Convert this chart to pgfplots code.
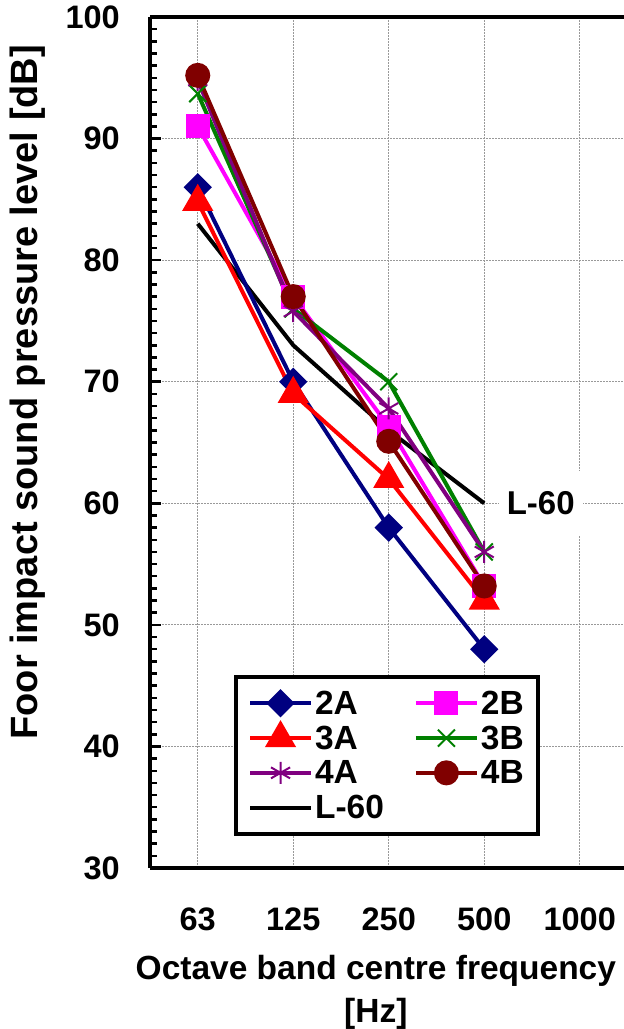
\documentclass[border=0pt]{standalone}
\usepackage{fontspec}
\setmainfont{Liberation Sans}
\usepackage{pgfplots}
\pgfplotsset{compat=1.18}
\definecolor{cA2}{RGB}{0,0,128}
\definecolor{cB2}{RGB}{255,0,255}
\definecolor{cA3}{RGB}{255,0,0}
\definecolor{cB3}{RGB}{0,128,0}
\definecolor{cA4}{RGB}{128,0,128}
\definecolor{cB4}{RGB}{128,0,0}
\begin{document}
\begin{tikzpicture}[x=1pt,y=1pt]
\begin{axis}[
  at={(150pt,-17pt)}, anchor=north west,
  scale only axis, width=477.5pt, height=851pt,
  xmin=-0.5, xmax=4.5, ymin=30, ymax=100,
  axis x line*=box, axis y line*=left,
  axis line style={line width=4.5pt},
  xtick={0,1,2,3,4}, xticklabels={63,125,250,500,1000},
  ytick={30,40,...,100}, minor y tick num=9,
  tick align=inside,
  major tick length=11pt, minor tick length=7pt,
  every tick/.style={black, line width=2.5pt},
  xtick style={draw=none},
  grid=major,
  major grid style={gray!80, dash pattern=on 2pt off 1pt, line width=0.8pt},
  /pgf/number format/assume math mode=true,
  tick label style={font=\bfseries\fontsize{32.5}{38}\selectfont, inner sep=0pt},
  yticklabel style={anchor=east, xshift=-30pt},
  xticklabel style={anchor=north, yshift=-40pt},
  xlabel={Octave band centre frequency\\{[Hz]}},
  xlabel style={at={(axis description cs:0.473,-0.1022)}, anchor=north, align=center, inner sep=0pt, font=\bfseries\fontsize{33.5}{43}\selectfont},
  ylabel={Foor impact sound pressure level [dB]},
  ylabel style={at={(axis description cs:-0.2555,0.559)}, anchor=center, inner sep=0pt, font=\bfseries\fontsize{38}{44}\selectfont},
  legend columns=2, legend cell align=left,
  legend style={at={(0.176,0.0376)}, anchor=south west, draw=black, line width=4pt,
    font=\bfseries\fontsize{33.5}{38}\selectfont, inner xsep=12pt, inner ysep=9pt,
    row sep=0pt, nodes={inner ysep=5pt},
    /tikz/every even column/.append style={column sep=28pt}},
  legend image code/.code={\draw[mark repeat=2,mark phase=2] plot coordinates {(0pt,0pt)(30.5pt,0pt)(61pt,0pt)};},
]
\addplot[black, line width=4pt, forget plot] coordinates {(0,83) (1,73) (2,66) (3,60)};
\addplot[cA2, line width=4pt, mark=square*, mark size=8, mark options={rotate=45, solid}] coordinates {(0,86) (1,70) (2,58) (3,48)};
\addlegendentry{2A}
\addplot[cB2, line width=4pt, mark=square*, mark size=10] coordinates {(0,91) (1,77) (2,66.3) (3,53.2)};
\addlegendentry{2B}
\addplot[cA3, line width=4pt, mark=triangle*, mark size=14] coordinates {(0,84.8) (1,69) (2,62) (3,52)};
\addlegendentry{3A}
\addplot[cB3, line width=4pt, mark=x, mark size=12, mark options={line width=2pt}] coordinates {(0,93.7) (1,76) (2,70) (3,56)};
\addlegendentry{3B}
\addplot[cA4, line width=4pt, mark=asterisk, mark size=11, mark options={line width=2pt}] coordinates {(0,94.8) (1,75.8) (2,67.8) (3,56)};
\addlegendentry{4A}
\addplot[cB4, line width=4pt, mark=*, mark size=10.5] coordinates {(0,95.2) (1,77) (2,65.1) (3,53.2)};
\addlegendentry{4B}
\addlegendimage{black, line width=4pt}
\addlegendentry{L-60}
\node[fill=white, anchor=west, inner xsep=8pt, inner ysep=0pt, minimum height=65pt, font=\bfseries\fontsize{33}{38}\selectfont] at (axis cs:3.15,60) {L-60};
\end{axis}
\pgfresetboundingbox
\path[use as bounding box] (0,0) rectangle (624pt,-1029pt);
\end{tikzpicture}
\end{document}
